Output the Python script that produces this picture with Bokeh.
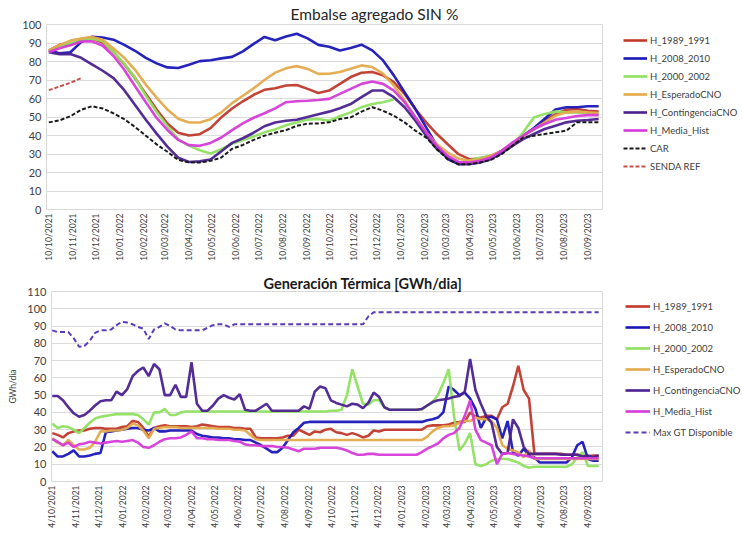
import math
import numpy as np
import pandas as pd
from bokeh.plotting import figure
from bokeh.models import ColumnDataSource, Legend, LegendItem, FixedTicker, Range1d
from bokeh.layouts import column, row
from bokeh.embed import file_html
from bokeh.resources import INLINE

nan = float("nan")

# ---------------- Top chart: Embalse agregado SIN % (biweekly samples from 10/10/2021) ----------------
top_first_date = "2021-10-10"
top_h_1989_1991 = [86, 89, 89.2, 91.5, 92.3, 90.2, 85, 78.5, 71, 62.5,
                   54, 46.5, 41.5, 40, 40.7, 44, 49.8, 54.6, 58.5, 62,
                   64.7, 65.5, 67, 67.3, 65.2, 63, 64.3, 67.9, 71.6, 73.9,
                   74.3, 72.5, 68.8, 62.5, 54.3, 47.1, 40.8, 35.3, 29.9, 27.2,
                   27.5, 29, 31.7, 35.3, 39.9, 43.5, 48, 51.6, 54, 54.3,
                   53.4, 52.9]
top_h_2008_2010 = [86, 84.5, 85, 90.5, 93.3, 93, 91.8, 89, 85.8, 82,
                   79, 76.8, 76.5, 78.3, 80.2, 80.7, 81.7, 82.5, 85.5, 89.5,
                   93.3, 91.5, 93.5, 95, 92.5, 89, 88, 86, 87.3, 89.1,
                   86, 80.6, 72.5, 63.4, 54.3, 44.4, 34.4, 27.2, 24.5, 25.4,
                   26.3, 28.1, 31.7, 35.5, 40, 44, 49, 54, 55.3, 55.3,
                   55.8, 55.8]
top_h_2000_2002 = [85.5, 88.5, 90, 91.5, 92.5, 91, 85, 78.8, 71.3, 61.5,
                   52.7, 45, 38, 34.5, 32, 30.3, 32.6, 35.5, 37.6, 39.5,
                   41.7, 43.3, 45.5, 47, 48.6, 48.9, 48, 50.4, 52.5, 55.3,
                   57, 58, 59.4, nan, nan, nan, nan, nan, nan, 26.5,
                   28, 29, 30.8, 34.4, 41.7, 49.8, 51.6, 52.9, 52.5, 52.5,
                   52.2, 51.1]
top_h_esperado = [86, 89, 91.3, 92.4, 93.3, 91.7, 87, 82, 75.5, 67.5,
                  60.5, 54, 49, 47, 47, 48.8, 52.5, 57.5, 61.5, 65.5,
                  70, 74, 76.3, 77.5, 76, 73.3, 73.4, 74.3, 76.1, 77.9,
                  77, 73.4, 67, 58.9, 49.8, 41.7, 35.3, 30.8, 27.5, 26.3,
                  27.2, 29, 31.7, 35.3, 39.9, 43.5, 47.1, 50.7, 52.5, 52.9,
                  52.5, 52.2]
top_h_contingencia = [85, 84, 84, 82, 78.5, 75, 71, 64.5, 56.5, 48.5,
                      41, 34, 28, 25.7, 26, 27, 31.5, 36, 38.5, 41.5,
                      45, 47, 48, 48.5, 50, 51.5, 52.9, 54.7, 57, 60.7,
                      64.3, 64.3, 60.7, 55.3, 48, 39.9, 32.6, 28.1, 24.5, 24.5,
                      25.4, 27.2, 30.4, 34.4, 38, 40.8, 43.5, 45.3, 47.1, 48,
                      48.4, 48.9]
top_h_media = [85, 87.2, 88.8, 90.8, 90.9, 88.5, 83, 75.5, 66.6, 58,
               49.5, 43, 37.6, 34.8, 34.4, 36, 38.9, 42.9, 46.5, 49.6,
               52, 54.7, 58, 58.5, 58.8, 59.2, 59.8, 62.5, 65.2, 67.9,
               69.2, 67.9, 64.3, 58, 49.8, 41.7, 34.4, 29, 25.7, 25.4,
               26.3, 28.1, 31.7, 36.2, 39.9, 43.5, 46.2, 48.5, 49.5, 50.5,
               51, 51]
top_car = [47.1, 48.2, 50.4, 53.9, 55.8, 54.6, 52, 48.8, 44.6, 39.9,
           35.2, 31.2, 26.8, 25.5, 25.4, 26.3, 28.1, 32.8, 34.9, 37.6,
           39.9, 41.5, 42.9, 45.2, 46.4, 46.5, 47.1, 48.9, 49.8, 52.9,
           55.3, 53.4, 50.7, 47.1, 42.6, 38.9, 32.6, 27.2, 24.5, 24.5,
           25.4, 26.8, 29.9, 34.4, 38.9, 39.9, 40.8, 41.7, 42.6, 47.1,
           47.1, 47.1]
top_senda_ref = [64.5, 66.5, 68.5, 71]
top_tick_labels = ["10/10/2021", "10/11/2021", "10/12/2021", "10/01/2022", "10/02/2022", "10/03/2022",
                   "10/04/2022", "10/05/2022", "10/06/2022", "10/07/2022", "10/08/2022", "10/09/2022",
                   "10/10/2022", "10/11/2022", "10/12/2022", "10/01/2023", "10/02/2023", "10/03/2023",
                   "10/04/2023", "10/05/2023", "10/06/2023", "10/07/2023", "10/08/2023", "10/09/2023"]

# ---------------- Bottom chart: Generación Térmica [GWh/dia] (weekly samples from 4/10/2021) ----------------
bot_first_date = "2021-10-04"
bot_h_1989_1991 = [28, 27, 25.5, 28, 29, 29.5, 29.5, 30.5, 31, 31,
                   30.5, 30.5, 30.5, 31.5, 32, 35, 34.5, 31, 26, 31,
                   32, 32.5, 32, 32, 32, 32, 31.5, 32, 33, 32.5,
                   32, 31.5, 31.5, 31.5, 31, 31, 30.5, 30.5, 25.5, 25,
                   25, 25, 25, 25.5, 26.5, 26.5, 30, 28.5, 27, 29,
                   28.5, 30, 30.5, 28.5, 28, 27, 28, 27, 25.5, 26.5,
                   29.5, 29, 30, 30, 30, 30, 30, 30, 30, 30,
                   32, 32.5, 32.5, 32.5, 33, 34, 34.5, 34.5, 40, 37.5,
                   37, 38, 38, 36, 43, 45, 55, 67, 53, 48,
                   16, 16, 16, 16, 16, 16, 15.5, 15.5, 15.5, 15,
                   14.5, 15, 15]
bot_h_2008_2010 = [17.5, 14.5, 14.5, 16, 18, 14.5, 14.5, 15, 16, 16.5,
                   28.5, 29, 29.5, 30, 30.5, 31, 31, 30, 29.5, 31,
                   29, 29, 29.5, 29.5, 29.5, 29.5, 29.5, 27.5, 26.5, 26,
                   25.5, 25.5, 25, 25, 24.5, 24.5, 24, 24, 22.5, 21,
                   19, 17, 17, 19.5, 24, 28.5, 31, 34, 34.5, 34.5,
                   34.5, 34.5, 34.5, 34.5, 34.5, 34.5, 34.5, 34.5, 34.5, 34.5,
                   34.5, 34.5, 34.5, 34.5, 34.5, 34.5, 34.5, 34.5, 34.5, 34.5,
                   35.5, 36, 37, 40, 55, 53, 50, 51.5, 48, 42,
                   31, 37, 37.5, 36, 25, 35, 17, 15, 19, 15,
                   14, 11, 11, 11, 11, 11, 11, 14, 21, 23,
                   13, 12, 12]
bot_h_2000_2002 = [33.5, 31, 32, 31.5, 30, 28, 31, 34, 36.5, 37.5,
                   38, 38.5, 39, 39, 39, 39, 38.5, 36, 33, 40,
                   40, 42, 38.5, 38.5, 40, 40.5, 40.5, 40.5, 40.5, 40.5,
                   40.5, 40.5, 40.5, 40.5, 40.5, 40.5, 40.5, 40.5, 40.5, 40.5,
                   40.5, 40.5, 40.5, 40.5, 40.5, 40.5, 40.5, 40.5, 40.5, 40.5,
                   40.5, 40.5, 41, 41, 41.5, 50, 65, 55, 45, 44.5,
                   47, 47, 43, 41.5, 41.5, 41.5, 41.5, 41.5, 41.5, 41.5,
                   44, 46, 50, 57, 65, 38, 18, 22, 28, 10,
                   9, 10, 12, 13, 13, 13, 12, 11, 9, 8,
                   8.5, 8.5, 8.5, 8.5, 8.5, 8.5, 8.5, 10, 14, 17,
                   9, 9, 9]
bot_h_esperado = [25, 22.5, 21, 24, 21, 18.5, 18.5, 19.5, 23, 29,
                  29, 29.5, 29.5, 30, 31, 33.5, 32.5, 29.5, 25, 30.5,
                  31, 31.5, 31.5, 31.5, 31, 31, 31, 31, 31, 31,
                  31, 30.5, 30.5, 30.5, 30, 30, 29.5, 27, 24.5, 24,
                  24, 24, 24, 24, 24, 24, 24, 24, 24, 24,
                  24, 24, 24, 24, 24, 24, 24, 24, 24, 24,
                  24, 24, 24, 24, 24, 24, 24, 24, 24, 24,
                  26, 29, 31, 32, 32, 32.5, 34, 35, 35, 37,
                  36, 36, 35, 31, 21, 19, 18, 17, 14, 18,
                  13, 13, 13, 13, 13, 13, 13, 13, 13, 13,
                  13, 13, 13]
bot_h_contingencia = [49.5, 49.5, 47, 43, 39.5, 37.5, 38.5, 41, 44, 46.5,
                      47, 47, 52, 50, 53.5, 61, 64, 66, 61, 68,
                      65, 50, 50, 56, 49, 49, 69, 45, 41, 41,
                      44, 48, 50, 48.5, 47.5, 50.5, 41.5, 41, 41, 43,
                      45, 41, 41, 41, 41, 41, 41, 43.5, 42, 52,
                      55, 54, 47, 45.5, 44.5, 43.5, 45, 44.5, 42.5, 45.5,
                      51.5, 49, 43, 41.5, 41.5, 41.5, 41.5, 41.5, 41.5, 42,
                      44, 46, 47, 47.5, 48, 49, 49.5, 52, 71, 53,
                      45, 38, 34, 20, 16, 16.5, 36, 31, 20, 16,
                      16, 16, 16, 16, 16, 15.5, 15.5, 15.5, 15.5, 14.5,
                      15, 14, 15]
bot_h_media = [24.5, 23, 21, 22.5, 20, 21.5, 22, 23, 22.5, 22,
               22.5, 23, 23.5, 23, 23.5, 24, 22.5, 20, 19.5, 21,
               23, 24.5, 25, 25, 25.5, 27, 29, 25, 25, 24.5,
               24.5, 24, 24, 24, 23.5, 23, 21.5, 21, 21, 20.5,
               20.5, 20.5, 20, 20, 19.5, 18.5, 17.5, 19, 19, 19,
               19.5, 19.5, 19.5, 19.5, 19, 18, 16.5, 15.5, 15.5, 16,
               16, 15.5, 15.5, 15.5, 15.5, 15.5, 15.5, 15.5, 15.5, 17,
               19, 20.5, 22, 25, 27, 28, 31, 38, 47, 30,
               24, 22.5, 21, 10, 16, 16.5, 16, 15.5, 15, 14.5,
               13.5, 13.5, 13.5, 13.5, 13.5, 13.5, 13.5, 13.5, 13.5, 13.5,
               13.5, 13.5, 13.5]
bot_max_gt = [87.5, 86.5, 86.5, 86.5, 83, 78, 78.5, 81.5, 86, 87.5,
              87.5, 88, 90.5, 92.5, 92, 91, 89.5, 88.5, 82.5, 88,
              89.5, 91.5, 90, 88, 87.5, 87.5, 87.5, 87.5, 87.5, 89,
              90.5, 91, 91, 89.5, 91, 91, 91, 91, 91, 91,
              91, 91, 91, 91, 91, 91, 91, 91, 91, 91,
              91, 91, 91, 91, 91, 91, 91, 91, 91, 95.5,
              98, 98, 98, 98, 98, 98, 98, 98, 98, 98,
              98, 98, 98, 98, 98, 98, 98, 98, 98, 98,
              98, 98, 98, 98, 98, 98, 98, 98, 98, 98,
              98, 98, 98, 98, 98, 98, 98, 98, 98, 98,
              98, 98, 98]
bot_tick_labels = ["4/10/2021", "4/11/2021", "4/12/2021", "4/01/2022", "4/02/2022", "4/03/2022",
                   "4/04/2022", "4/05/2022", "4/06/2022", "4/07/2022", "4/08/2022", "4/09/2022",
                   "4/10/2022", "4/11/2022", "4/12/2022", "4/01/2023", "4/02/2023", "4/03/2023",
                   "4/04/2023", "4/05/2023", "4/06/2023", "4/07/2023", "4/08/2023", "4/09/2023"]

FONT = "Lato"
C_1989 = "#c0392b"
C_2008 = "#1a16b8"
C_2000 = "#8fe060"
C_ESP = "#e3aa4c"
C_CONT = "#4b2190"
C_MEDIA = "#d63bd8"
C_CAR = "#1a1a1a"
C_SENDA = "#c8504a"
C_MAXGT = "#5a3cb8"

H_TOP = 270
H_BOT = 264
W_PLOT = 603
W_LEG = 139


def to_ms(ts):
    return int(pd.Timestamp(ts).value // 10**6)


def tick_setup(p, labels):
    ticks = []
    overrides = {}
    for lab in labels:
        d, m, y = lab.split("/")
        ms = to_ms(pd.Timestamp(year=int(y), month=int(m), day=int(d)))
        ticks.append(ms)
        overrides[ms] = lab
    p.xaxis.ticker = FixedTicker(ticks=ticks)
    p.xaxis.major_label_overrides = overrides


def style(p, ymax):
    p.background_fill_color = "white"
    p.border_fill_color = "white"
    p.outline_line_color = "#d9d9d9"
    p.xgrid.grid_line_color = None
    p.ygrid.grid_line_color = "#dcdcdc"
    p.ygrid.grid_line_width = 1
    p.axis.axis_line_color = None
    p.axis.major_tick_line_color = None
    p.axis.minor_tick_line_color = None
    p.axis.major_tick_out = 0
    p.axis.major_tick_in = 0
    p.axis.major_label_text_font = FONT
    p.axis.major_label_text_color = "#404040"
    p.yaxis.major_label_text_font_size = "11px"
    p.xaxis.major_label_text_font_size = "8.5px"
    p.xaxis.major_label_orientation = math.pi / 2
    p.xaxis.major_label_standoff = 4
    p.yaxis.major_label_standoff = 5
    p.yaxis.ticker = FixedTicker(ticks=list(range(0, ymax + 1, 10)))
    p.title.text_font = FONT
    p.title.align = "left"


def legend_panel(series, dates, height, x, y, spacing, gw, gh):
    # a side figure holding only the legend; its lines fall outside its ranges.
    # Its frame is aligned with the neighbouring plot's frame, so (x, y) is
    # measured from that frame's bottom-left corner.
    lf = figure(width=W_LEG, height=height, x_range=Range1d(0, 1), y_range=Range1d(0, 1),
                output_backend="svg", toolbar_location=None, x_axis_location=None,
                y_axis_location=None, min_border=0)
    lf.outline_line_color = None
    lf.grid.grid_line_color = None
    lf.background_fill_color = "white"
    lf.border_fill_color = "white"
    items = []
    for name, vals, col, dash in series:
        src = ColumnDataSource(dict(x=dates[:len(vals)], y=np.array(vals, dtype=float)))
        if dash:
            r = lf.line("x", "y", source=src, line_color=col, line_width=2, line_dash=dash)
        else:
            r = lf.line("x", "y", source=src, line_color=col, line_width=2.6)
        items.append(LegendItem(label=name, renderers=[r]))
    leg = Legend(items=items, location=(x, y), padding=0, margin=0, spacing=spacing,
                 glyph_width=gw, glyph_height=gh, label_height=gh, label_standoff=3,
                 label_text_font=FONT, label_text_font_size="9.5px", label_text_color="#404040",
                 background_fill_alpha=0, border_line_color=None)
    lf.add_layout(leg)
    return lf


# ---------------- top figure ----------------
top_dates = pd.date_range(top_first_date, periods=len(top_h_1989_1991), freq="14D")
p1 = figure(width=W_PLOT, height=H_TOP, x_axis_type="datetime",
            x_range=Range1d(pd.Timestamp("2021-10-07"), pd.Timestamp("2023-09-29")),
            y_range=Range1d(0, 100), output_backend="svg", toolbar_location=None,
            min_border_left=46, min_border_right=1, min_border_top=24, min_border_bottom=61)
p1.title.text = "Embalse agregado SIN %"
p1.title.text_font_size = "15.5px"
p1.title.text_font_style = "normal"
p1.title.text_color = "#262626"
p1.title.offset = 244
p1.title.standoff = 3
style(p1, 100)
tick_setup(p1, top_tick_labels)

top_series = [
    ("H_1989_1991", top_h_1989_1991, C_1989, None),
    ("H_2008_2010", top_h_2008_2010, C_2008, None),
    ("H_2000_2002", top_h_2000_2002, C_2000, None),
    ("H_EsperadoCNO", top_h_esperado, C_ESP, None),
    ("H_ContingenciaCNO", top_h_contingencia, C_CONT, None),
    ("H_Media_Hist", top_h_media, C_MEDIA, None),
    ("CAR", top_car, C_CAR, "4 2"),
    ("SENDA REF", top_senda_ref, C_SENDA, "4 2"),
]
for name, vals, col, dash in top_series:
    src = ColumnDataSource(dict(x=top_dates[:len(vals)], y=np.array(vals, dtype=float)))
    if dash:
        p1.line("x", "y", source=src, line_color=col, line_width=2, line_dash=dash)
    else:
        p1.line("x", "y", source=src, line_color=col, line_width=2.6, line_alpha=0.95)

leg1 = legend_panel(top_series, top_dates, H_TOP, 20, 36, 4, 24, 14)

# ---------------- bottom figure ----------------
bot_dates = pd.date_range(bot_first_date, periods=len(bot_h_1989_1991), freq="7D")
p2 = figure(width=W_PLOT, height=H_BOT, x_axis_type="datetime",
            x_range=Range1d(pd.Timestamp("2021-10-03"), pd.Timestamp("2023-09-23")),
            y_range=Range1d(0, 110), output_backend="svg", toolbar_location=None,
            min_border_left=51, min_border_right=1, min_border_top=21, min_border_bottom=53)
p2.title.text = "Generación Térmica [GWh/dia]"
p2.title.text_font_size = "14.5px"
p2.title.text_font_style = "bold"
p2.title.text_color = "#1a1a1a"
p2.title.offset = 212
p2.title.standoff = 0
p2.title.vertical_align = "bottom"
style(p2, 110)
tick_setup(p2, bot_tick_labels)
p2.yaxis.axis_label = "GWh/día"
p2.yaxis.axis_label_text_font = FONT
p2.yaxis.axis_label_text_font_size = "8.5px"
p2.yaxis.axis_label_text_font_style = "normal"
p2.yaxis.axis_label_text_color = "#404040"
p2.yaxis.axis_label_standoff = 6

bot_series = [
    ("H_1989_1991", bot_h_1989_1991, C_1989, None),
    ("H_2008_2010", bot_h_2008_2010, C_2008, None),
    ("H_2000_2002", bot_h_2000_2002, C_2000, None),
    ("H_EsperadoCNO", bot_h_esperado, C_ESP, None),
    ("H_ContingenciaCNO", bot_h_contingencia, C_CONT, None),
    ("H_Media_Hist", bot_h_media, C_MEDIA, None),
    ("Max GT Disponible", bot_max_gt, C_MAXGT, "5 3"),
]
for name, vals, col, dash in bot_series:
    src = ColumnDataSource(dict(x=bot_dates[:len(vals)], y=np.array(vals, dtype=float)))
    if dash:
        p2.line("x", "y", source=src, line_color=col, line_width=2, line_dash=dash)
    else:
        p2.line("x", "y", source=src, line_color=col, line_width=2.6, line_alpha=0.95)

leg2 = legend_panel(bot_series, bot_dates, H_BOT, 22, 41, 5, 25, 16)

layout = column(row(p1, leg1, spacing=0), row(p2, leg2, spacing=0), spacing=0)
open("out.html", "w").write(file_html(layout, INLINE))
